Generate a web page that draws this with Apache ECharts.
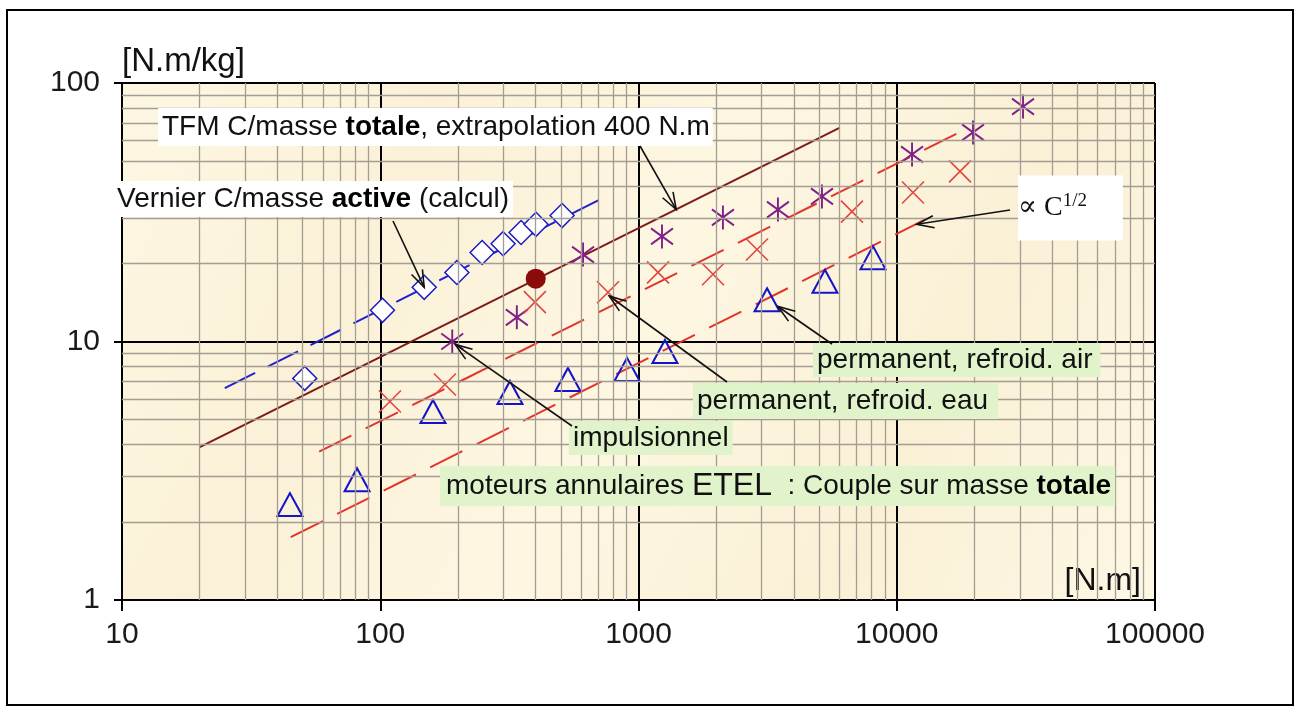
<!DOCTYPE html>
<html>
<head>
<meta charset="utf-8">
<script src="https://cdn.jsdelivr.net/npm/echarts@6/dist/echarts.min.js"></script>
<style>
html, body { margin: 0; padding: 0; background: #fff; }
#echarts { width: 1295px; height: 716px; }
</style>
</head>
<body>
<div id="echarts"></div>
<script>
// 刻度 / grille
var decadesC = [10, 100, 1000, 10000];
var decadesR = [1, 10];
var minorSteps = [2, 3, 4, 5, 6, 7, 8, 9];

// Vernier C/masse active (calcul)
var vernierC = [51, 102, 148, 198, 248, 299, 351, 401, 506];
var vernierR = [7.2, 13.2, 16.2, 18.5, 22.1, 23.9, 26.4, 28.4, 30.7];
var vernierLineC = [25, 700];
var vernierLineR = [6.6, 35.2];

// TFM extrapolation
var tfmLineC = [20, 6000];
var tfmLineR = [3.9, 67];
var tfmPointC = [400];
var tfmPointR = [17.5];

// impulsionnel
var impulsC = [190, 338, 610, 1233, 2123, 3467, 5134, 11460, 19740, 30830];
var impulsR = [10.0, 12.4, 21.7, 25.5, 30.2, 32.4, 36.4, 52.9, 64.4, 81.1];

// permanent, refroid. eau
var eauC = [109, 178, 397, 762, 1190, 1943, 2876, 6707, 11560, 17580];
var eauR = [5.86, 6.82, 14.2, 15.5, 18.5, 18.2, 22.7, 31.8, 37.7, 45.5];
var eauLineC = [58, 19200];
var eauLineR = [3.75, 67.5];

// permanent, refroid. air
var airC = [44.7, 81.3, 160, 318, 533, 903, 1266, 3146, 5272, 8090];
var airR = [2.34, 2.92, 5.36, 6.35, 7.13, 7.8, 9.15, 14.5, 17.1, 21.1];
var airLineC = [45, 14000];
var airLineR = [1.75, 30.9];

function pairs(xs, ys) {
    return xs.map(function (x, i) { return [x, ys[i]]; });
}

var FONT = '"Liberation Sans", Arial, sans-serif';

var myChart = echarts.init(document.getElementById('echarts'));

// lignes de grille mineures
var minorLines = [];
decadesC.forEach(function (d) {
    minorSteps.forEach(function (s) { minorLines.push({ xAxis: d * s }); });
});
decadesR.forEach(function (d) {
    minorSteps.forEach(function (s) { minorLines.push({ yAxis: d * s }); });
});

var option = {
    animation: false,
    backgroundColor: '#fff',
    grid: {
        left: 122, right: 140, top: 83, bottom: 116,
        show: true,
        borderColor: '#8a8a8a',
        borderWidth: 1,
        outerBoundsMode: 'none',
        backgroundColor: new echarts.graphic.LinearGradient(0, 0, 1, 1, [
            { offset: 0, color: '#fdf7e2' },
            { offset: 0.25, color: '#fbf1d8' },
            { offset: 0.5, color: '#fdf6e1' },
            { offset: 0.75, color: '#faf0d6' },
            { offset: 1, color: '#fdf7e4' }
        ])
    },
    xAxis: {
        type: 'log',
        logBase: 10,
        min: 10,
        max: 100000,
        name: '[N.m]',
        nameLocation: 'end',
        nameGap: -14,
        nameTextStyle: {
            fontFamily: FONT, fontSize: 32, color: '#111',
            align: 'right', verticalAlign: 'bottom', padding: [0, 0, 3, 0]
        },
        axisLine: { show: true, lineStyle: { color: '#000', width: 2 } },
        axisTick: { show: true, inside: false, length: 11, lineStyle: { color: '#000', width: 2 } },
        axisLabel: {
            margin: 20,
            fontFamily: FONT, fontSize: 30, color: '#1a1a1a',
            formatter: function (v) { return String(Math.round(v)); }
        },
        splitLine: { show: true, lineStyle: { color: '#000', width: 2 } }
    },
    yAxis: {
        type: 'log',
        logBase: 10,
        min: 1,
        max: 100,
        name: '[N.m/kg]',
        nameLocation: 'end',
        nameGap: 5,
        nameTextStyle: {
            fontFamily: FONT, fontSize: 33, color: '#111',
            align: 'left', verticalAlign: 'bottom'
        },
        axisLine: { show: true, lineStyle: { color: '#000', width: 2 } },
        axisTick: { show: true, inside: false, length: 8, lineStyle: { color: '#000', width: 2 } },
        axisLabel: {
            margin: 22,
            fontFamily: FONT, fontSize: 30, color: '#1a1a1a',
            formatter: function (v) { return String(Math.round(v)); }
        },
        splitLine: { show: true, lineStyle: { color: '#000', width: 2 } }
    },
    series: [
        {
            name: 'grille',
            type: 'line',
            data: [],
            z: 1,
            silent: true,
            markLine: {
                silent: true,
                symbol: ['none', 'none'],
                label: { show: false },
                lineStyle: { color: '#a39d92', width: 1.3, type: 'solid' },
                data: minorLines
            }
        },
        {
            name: 'TFM',
            type: 'line',
            data: pairs(tfmLineC, tfmLineR),
            symbol: 'none',
            lineStyle: { color: '#7e1a1a', width: 2 },
            z: 3
        },
        {
            name: 'Vernier ligne',
            type: 'line',
            data: pairs(vernierLineC, vernierLineR),
            symbol: 'none',
            lineStyle: { color: '#2020d0', width: 2, type: [34, 14] },
            z: 3
        },
        {
            name: 'eau ligne',
            type: 'line',
            data: pairs(eauLineC, eauLineR),
            symbol: 'none',
            lineStyle: { color: '#e3342c', width: 2, type: [36, 16] },
            z: 3
        },
        {
            name: 'air ligne',
            type: 'line',
            data: pairs(airLineC, airLineR),
            symbol: 'none',
            lineStyle: { color: '#e3342c', width: 2, type: [36, 16] },
            z: 3
        },
        {
            name: 'Vernier',
            type: 'scatter',
            data: pairs(vernierC, vernierR),
            symbol: 'diamond',
            symbolSize: [24, 24],
            itemStyle: { color: '#ffffff', borderColor: '#1c1cc4', borderWidth: 1.5, opacity: 1 },
            z: 4
        },
        {
            name: 'impulsionnel',
            type: 'scatter',
            data: pairs(impulsC, impulsR),
            symbol: 'path://M10,0L10,24M1,4L19,20M1,20L19,4',
            symbolSize: [22, 24],
            itemStyle: { color: 'rgba(0,0,0,0)', borderColor: '#82208a', borderWidth: 2, opacity: 1 },
            z: 4
        },
        {
            name: 'eau',
            type: 'scatter',
            data: pairs(eauC, eauR),
            symbol: 'path://M0,0L20,20M0,20L20,0',
            symbolSize: [22, 22],
            itemStyle: { color: 'rgba(0,0,0,0)', borderColor: '#e2463f', borderWidth: 1.6, opacity: 1 },
            z: 4
        },
        {
            name: 'air',
            type: 'scatter',
            data: pairs(airC, airR),
            symbol: 'triangle',
            symbolSize: [25, 23],
            itemStyle: { color: 'rgba(0,0,0,0)', borderColor: '#1414c8', borderWidth: 2, opacity: 1 },
            z: 4
        },
        {
            name: 'TFM 400',
            type: 'scatter',
            data: pairs(tfmPointC, tfmPointR),
            symbol: 'circle',
            symbolSize: 20,
            itemStyle: { color: '#8b0a0a', opacity: 1 },
            z: 5
        }
    ]
};
myChart.setOption(option);

// annotations
var GREEN = '#e0f3cb';
function richText(x, y, text, rich, bg, pad) {
    return {
        type: 'text', x: x, y: y, z: 100,
        style: {
            text: text, rich: rich,
            fill: '#111', fontFamily: FONT, fontSize: 28,
            verticalAlign: 'middle', align: 'left',
            backgroundColor: bg, padding: pad
        }
    };
}
var normal = { fontFamily: FONT, fontSize: 28, fill: '#111' };
var bold = { fontFamily: FONT, fontSize: 28, fontWeight: 'bold', fill: '#000' };

function arrow(tail, tipData) {
    var tip = myChart.convertToPixel({ gridIndex: 0 }, tipData);
    var dx = tip[0] - tail[0], dy = tip[1] - tail[1];
    var len = Math.sqrt(dx * dx + dy * dy);
    var ux = dx / len, uy = dy / len;
    var h = 17, w = 6;
    var bx = tip[0] - ux * h, by = tip[1] - uy * h;
    return [
        { type: 'line', z: 101, shape: { x1: tail[0], y1: tail[1], x2: tip[0], y2: tip[1] },
          style: { stroke: '#111', lineWidth: 1.6 } },
        { type: 'polyline', z: 101,
          shape: { points: [[bx - uy * w, by + ux * w], tip, [bx + uy * w, by - ux * w]] },
          style: { stroke: '#111', lineWidth: 1.6, fill: null } }
    ];
}

var elements = [
    { type: 'rect', z: 100, shape: { x: 7, y: 10, width: 1286, height: 695 },
      style: { fill: null, stroke: '#000', lineWidth: 2 } },
    richText(158, 127, '{n|TFM C/masse }{b|totale}{n|, extrapolation 400 N.m}',
        { n: normal, b: bold }, '#fff', [5, 3, 5, 4]),
    richText(115, 199, '{n|Vernier C/masse }{b|active}{n| (calcul)}',
        { n: normal, b: bold }, '#fff', [4, 4, 4, 2]),
    richText(1018, 208, '{n|\u221D C}{s|1/2}',
        { n: { fontFamily: '"Liberation Serif", "DejaVu Serif", serif', fontSize: 28, fill: '#111' },
          s: { fontFamily: '"Liberation Serif", "DejaVu Serif", serif', fontSize: 19, fill: '#111', verticalAlign: 'top', padding: [0, 0, 14, 0] } },
        '#fff', [16, 36, 16, 0]),
    richText(813, 360, '{n|permanent, refroid. air}', { n: normal }, GREEN, [3, 8, 3, 4]),
    richText(693, 401, '{n|permanent, refroid. eau}', { n: normal }, GREEN, [4, 10, 4, 4]),
    richText(569, 438, '{n|impulsionnel}', { n: normal }, GREEN, [3, 4, 3, 4]),
    richText(440, 486, '{n|moteurs annulaires }{e|ETEL}{n|  : Couple sur masse }{b|totale}',
        { n: normal, b: bold, e: { fontFamily: FONT, fontSize: 32, fill: '#111' } }, GREEN, [4, 4, 4, 6])
];
elements = elements
    .concat(arrow([640, 146], [1400, 32.4]))
    .concat(arrow([393, 221], [148, 16.2]))
    .concat(arrow([1010, 210], [11970, 28.4]))
    .concat(arrow([727, 382], [770, 15.0]))
    .concat(arrow([832, 344], [3467, 13.66]))
    .concat(arrow([572, 426], [195, 9.74]));

myChart.setOption({ graphic: { elements: elements } });
</script>
</body>
</html>
